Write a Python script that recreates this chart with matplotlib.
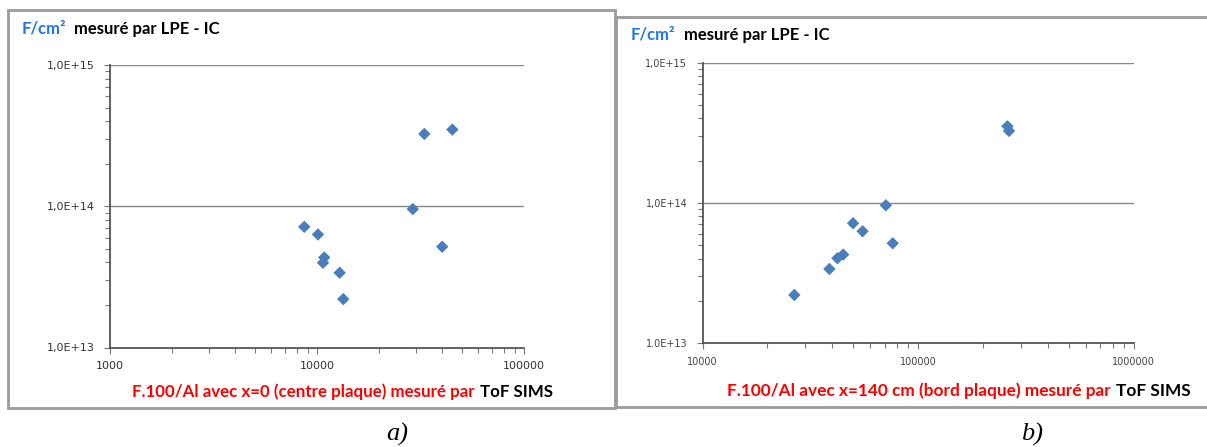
"""Two log-log scatter panels: LPE-IC fluorine vs ToF SIMS (centre / bord plaque)."""

import matplotlib

matplotlib.use("Agg")
import matplotlib.pyplot as plt
from matplotlib.patches import Rectangle
from matplotlib.ticker import FixedFormatter, FixedLocator, LogLocator, NullFormatter

# panel a) x=0 (centre plaque)
centre_sims = [8680, 10110, 10840, 10690, 12870, 13400, 29040, 33000, 45080, 40230]
centre_lpe = [7.15e13, 6.31e13, 4.34e13, 3.98e13, 3.38e13, 2.20e13, 9.55e13, 3.25e14, 3.49e14, 5.17e13]

# panel b) x=140 cm (bord plaque)
bord_sims = [26670, 38800, 42270, 44930, 49940, 55300, 70880, 76290, 259800, 264200]
bord_lpe = [2.20e13, 3.37e13, 4.02e13, 4.27e13, 7.14e13, 6.26e13, 9.59e13, 5.14e13, 3.51e14, 3.25e14]

centre_xticks = [1000, 10000, 100000]
bord_xticks = [10000, 100000, 1000000]
y_ticks = [1e13, 1e14, 1e15]
centre_ylabels = ["1,0E+13", "1,0E+14", "1,0E+15"]
bord_ylabels = ["1.0E+13", "1,0E+14", "1,0E+15"]

xlabel_red = {
    "a": "F.100/Al avec x=0 (centre plaque) mesuré par",
    "b": "F.100/Al avec x=140 cm (bord plaque) mesuré par",
}

MARKER_BLUE = "#4A7EBB"
TITLE_BLUE = "#1F77E8"
W, H = 1207, 447


def fx(px):
    return px / W


def fy(py):
    return 1 - py / H


def style_axes(ax, xticks, ylabels, label_size, label_color):
    ax.set_xscale("log")
    ax.set_yscale("log")
    ax.set_xlim(xticks[0], xticks[-1])
    ax.set_ylim(y_ticks[0], y_ticks[-1])
    for side in ("top", "right"):
        ax.spines[side].set_visible(False)
    for side in ("left", "bottom"):
        ax.spines[side].set_color("#555555")
        ax.spines[side].set_linewidth(1.3)
    ax.xaxis.set_major_locator(FixedLocator(xticks))
    ax.xaxis.set_major_formatter(FixedFormatter([str(v) for v in xticks]))
    ax.xaxis.set_minor_locator(LogLocator(base=10, subs=range(2, 10)))
    ax.xaxis.set_minor_formatter(NullFormatter())
    ax.yaxis.set_major_locator(FixedLocator(y_ticks))
    ax.yaxis.set_major_formatter(FixedFormatter(ylabels))
    ax.yaxis.set_minor_locator(LogLocator(base=10, subs=range(2, 10)))
    ax.yaxis.set_minor_formatter(NullFormatter())
    ax.tick_params(which="both", direction="out", color="#777777", width=0.8)
    ax.tick_params(which="major", length=4)
    ax.tick_params(which="minor", length=3.5)
    ax.tick_params(axis="y", which="major", pad=7, labelsize=label_size, labelcolor=label_color)
    ax.tick_params(axis="x", which="major", pad=6, labelsize=label_size, labelcolor=label_color)
    for v in y_ticks[1:]:
        ax.axhline(v, color="#888888", lw=1.0, zorder=0)


def two_tone(fig, x_px, base_px, parts, gap, size=12):
    """Write coloured pieces one after the other on a shared baseline."""
    renderer = fig.canvas.get_renderer()
    x = x_px
    for text, color in parts:
        t = fig.text(fx(x), fy(base_px), text, color=color, fontsize=size,
                     fontweight="bold", family="Lato", va="baseline", ha="left")
        x = t.get_window_extent(renderer).x1 + gap


fig = plt.figure(figsize=(W / 100, H / 100), dpi=100)

# panel frames
fig.add_artist(Rectangle((fx(8), fy(408)), fx(615 - 8), (408 - 10) / H,
                         transform=fig.transFigure, fill=False, ec="#9a9a9a", lw=2))
fig.add_artist(Rectangle((fx(616), fy(407)), fx(1215 - 616), (407 - 17) / H,
                         transform=fig.transFigure, fill=False, ec="#9a9a9a", lw=2))

ax_a = fig.add_axes([fx(110), fy(347.5), fx(524 - 110), (347.5 - 65) / H])
ax_a.scatter(centre_sims, centre_lpe, marker="D", s=40, color=MARKER_BLUE,
             edgecolor="none", zorder=3)
style_axes(ax_a, centre_xticks, centre_ylabels, 8, "#333333")

ax_b = fig.add_axes([fx(702.5), fy(343), fx(1133.6 - 702.5), (343 - 62.5) / H])
ax_b.scatter(bord_sims, bord_lpe, marker="D", s=40, color=MARKER_BLUE,
             edgecolor="none", zorder=3)
style_axes(ax_b, bord_xticks, bord_ylabels, 7, "#444444")

# y titles
title_parts = [("F/cm²", TITLE_BLUE), ("mesuré par LPE - IC", "black")]
two_tone(fig, 22, 34, title_parts, gap=8)
two_tone(fig, 631, 40, title_parts, gap=8)

# x titles
two_tone(fig, 132, 397, [(xlabel_red["a"], "#FF0000"), ("ToF SIMS", "black")], gap=5, size=12.2)
two_tone(fig, 727, 396, [(xlabel_red["b"], "#FF0000"), ("ToF SIMS", "black")], gap=5, size=12.4)

fig.text(fx(397), fy(441), "a)", fontsize=19, style="italic", family="Liberation Serif",
         ha="center", va="baseline")
fig.text(fx(1032), fy(441), "b)", fontsize=19, style="italic", family="Liberation Serif",
         ha="center", va="baseline")

fig.savefig("out.png", dpi=100)
